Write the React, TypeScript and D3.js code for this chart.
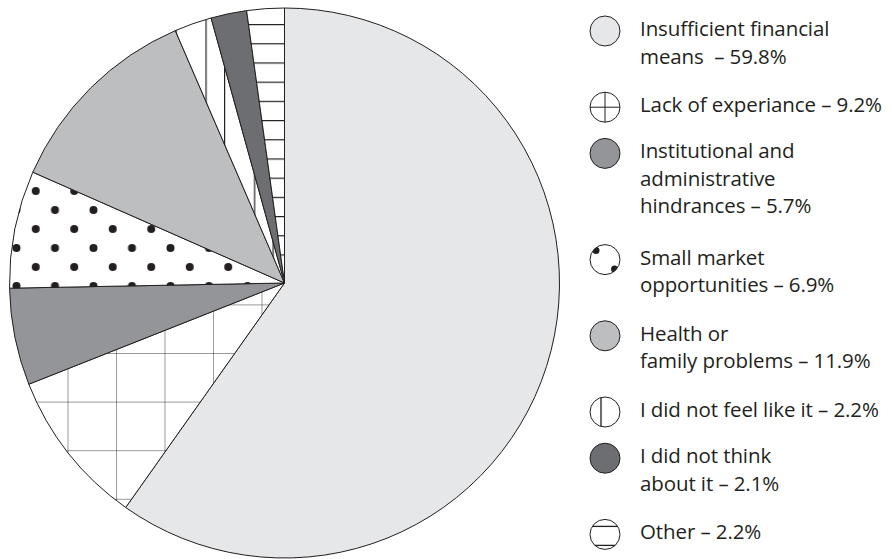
import React from "react";
import * as d3 from "d3";

const categories = [
  "Insufficient financial means",
  "Lack of experiance",
  "Institutional and administrative hindrances",
  "Small market opportunities",
  "Health or family problems",
  "I did not feel like it",
  "I did not think about it",
  "Other",
];
const values = [59.8, 9.2, 5.7, 6.9, 11.9, 2.2, 2.1, 2.2];
const legendLines = [
  ["Insufficient financial", "means  – 59.8%"],
  ["Lack of experiance – 9.2%"],
  ["Institutional and", "administrative", "hindrances – 5.7%"],
  ["Small market", "opportunities – 6.9%"],
  ["Health or", "family problems – 11.9%"],
  ["I did not feel like it – 2.2%"],
  ["I did not think", "about it – 2.1%"],
  ["Other – 2.2%"],
];
const fills = [
  "#e6e7e8",
  "url(#grid)",
  "#939598",
  "url(#dots)",
  "#bcbec0",
  "url(#vlines)",
  "#6d6e71",
  "url(#hlines)",
];
const icons = ["plain", "cross", "plain", "dots", "plain", "vline", "plain", "hline"];

const W = 892;
const H = 559;
const cx = 284.5;
const cy = 283;
const R = 275;
const INK = "#231f20";

export default function App() {
  const pie = d3
    .pie<number>()
    .sort(null)
    .value((d) => d)
    .startAngle(0)
    .endAngle(2 * Math.PI);
  const arcs = pie(values);
  const arc = d3.arc<d3.PieArcDatum<number>>().innerRadius(0).outerRadius(R);

  // legend layout
  const lx = 640;
  const icx = 605;
  const ir = 15;
  const lineH = 27.5;
  let start = 36;
  const legend = legendLines.map((lines, i) => {
    const item = { lines, y: start, i };
    start += lines.length * 30 + 16.2;
    return item;
  });

  const chord = (d: number) => Math.sqrt(ir * ir - d * d);

  return (
    <div style={{ position: "fixed", left: 0, top: 0, width: W, height: H, background: "#fff" }}>
      <svg width={W} height={H} viewBox={`0 0 ${W} ${H}`}>
        <defs>
          <pattern id="grid" patternUnits="userSpaceOnUse" x={74} y={313} width={48.5} height={48.6}>
            <rect width={48.5} height={48.6} fill="#fff" />
            <line x1={0} y1={0} x2={0} y2={48.6} stroke={INK} strokeWidth={0.9} />
            <line x1={0} y1={0} x2={48.5} y2={0} stroke={INK} strokeWidth={0.9} />
          </pattern>
          <pattern id="dots" patternUnits="userSpaceOnUse" x={20.75} y={174} width={38.5} height={38}>
            <rect width={38.5} height={38} fill="#fff" />
            <circle cx={19.25} cy={19} r={4} fill={INK} />
            <circle cx={0} cy={0} r={4} fill={INK} />
            <circle cx={38.5} cy={0} r={4} fill={INK} />
            <circle cx={0} cy={38} r={4} fill={INK} />
            <circle cx={38.5} cy={38} r={4} fill={INK} />
          </pattern>
          <pattern id="vlines" patternUnits="userSpaceOnUse" x={182} y={0} width={48.5} height={20}>
            <rect width={48.5} height={20} fill="#fff" />
            <line x1={0.6} y1={0} x2={0.6} y2={20} stroke={INK} strokeWidth={1.2} />
            <line x1={30.6} y1={0} x2={30.6} y2={20} stroke={INK} strokeWidth={1.2} />
          </pattern>
          <pattern id="hlines" patternUnits="userSpaceOnUse" x={0} y={29} width={20} height={19.2}>
            <rect width={20} height={19.2} fill="#fff" />
            <line x1={0} y1={0.6} x2={20} y2={0.6} stroke={INK} strokeWidth={1.2} />
          </pattern>
          {legend.map((it) => (
            <clipPath id={`clip${it.i}`} key={it.i}>
              <circle cx={icx} cy={it.y - 5} r={ir} />
            </clipPath>
          ))}
        </defs>

        <g transform={`translate(${cx},${cy})`}>
          {arcs.map((a, i) => (
            <path
              key={categories[i]}
              d={arc(a) || ""}
              fill={fills[i]}
              stroke={INK}
              strokeWidth={1}
              strokeLinejoin="round"
            />
          ))}
        </g>

        <g fontFamily="'Open Sans', sans-serif" fontSize={20.5} letterSpacing={-0.1} fill={INK}>
          {legend.map((it) => {
            const y0 = it.y - 5;
            const kind = icons[it.i];
            const solid = fills[it.i].startsWith("#") ? fills[it.i] : "#fff";
            return (
              <g key={categories[it.i]}>
                <circle cx={icx} cy={y0} r={ir} fill={solid} stroke={INK} strokeWidth={1} />
                {kind === "cross" && (
                  <g stroke={INK} strokeWidth={1}>
                    <line x1={icx - ir} y1={y0} x2={icx + ir} y2={y0} />
                    <line x1={icx} y1={y0 - ir} x2={icx} y2={y0 + ir} />
                  </g>
                )}
                {kind === "dots" && (
                  <g clipPath={`url(#clip${it.i})`} fill={INK}>
                    <circle cx={icx - 9} cy={y0 - 9} r={3.5} />
                    <circle cx={icx + 9.5} cy={y0 + 9.5} r={3.5} />
                  </g>
                )}
                {kind === "vline" && (
                  <line
                    x1={icx - 4}
                    y1={y0 - chord(4)}
                    x2={icx - 4}
                    y2={y0 + chord(4)}
                    stroke={INK}
                    strokeWidth={1.3}
                  />
                )}
                {kind === "hline" && (
                  <g stroke={INK} strokeWidth={1.3}>
                    <line x1={icx - chord(8)} y1={y0 - 8} x2={icx + chord(8)} y2={y0 - 8} />
                    <line x1={icx - chord(11)} y1={y0 + 11} x2={icx + chord(11)} y2={y0 + 11} />
                  </g>
                )}
                <text x={lx} y={it.y} style={{ whiteSpace: "pre" }}>
                  {it.lines.map((ln, j) => (
                    <tspan key={j} x={lx} y={it.y + j * lineH}>
                      {ln}
                    </tspan>
                  ))}
                </text>
              </g>
            );
          })}
        </g>
      </svg>
    </div>
  );
}
